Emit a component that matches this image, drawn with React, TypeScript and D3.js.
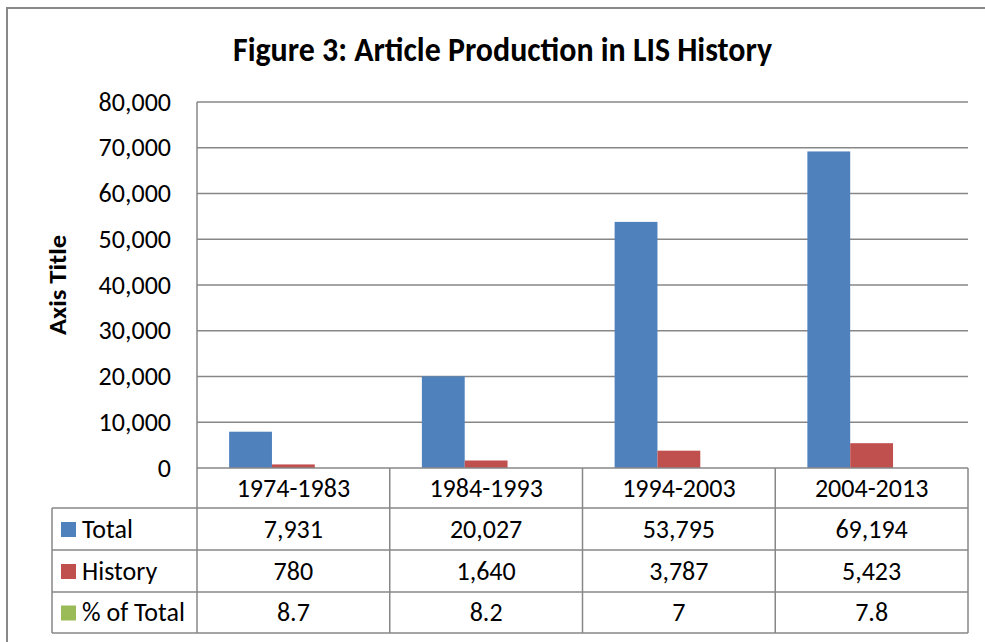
import React from "react";
import * as d3 from "d3";

const categories = ["1974-1983", "1984-1993", "1994-2003", "2004-2013"];
const seriesNames = ["Total", "History", "% of Total"];
const totalValues = [7931, 20027, 53795, 69194];
const historyValues = [780, 1640, 3787, 5423];
const pctValues = [8.7, 8.2, 7, 7.8];
const totalLabels = ["7,931", "20,027", "53,795", "69,194"];
const historyLabels = ["780", "1,640", "3,787", "5,423"];
const pctLabels = ["8.7", "8.2", "7", "7.8"];
const yTicks = [0, 10000, 20000, 30000, 40000, 50000, 60000, 70000, 80000];
const colors = ["#4F81BD", "#C0504D", "#9BBB59"];

const W = 985;
const H = 642;
const FONT = "Carlito, Lato, 'Open Sans', sans-serif";

export default function App() {
  const left = 197;
  const right = 968;
  const top = 102;
  const bottom = 468;
  const tableLeft = 52;
  const rowYs = [468, 508, 550, 592, 633];
  const fs = 26;

  const x = d3.scaleBand<string>().domain(categories).range([left, right]).paddingInner(0).paddingOuter(0);
  const y = d3.scaleLinear().domain([0, 80000]).range([bottom, top]);
  const bw = x.bandwidth();
  const barW = bw / 4.5;
  const sub = d3.scaleBand<number>().domain([0, 1, 2]).range([0, barW * 3]);
  const fmt = d3.format(",");
  const series = [totalValues, historyValues, pctValues];
  const rowLabels = [totalLabels, historyLabels, pctLabels];
  const grid = "#878787";

  return (
    <div style={{ position: "absolute", left: 0, top: 0 }}>
      <svg width={W} height={H} style={{ display: "block", fontFamily: FONT }}>
        <rect x={0} y={0} width={W} height={H} fill="#fff" />
        <rect x={7} y={8} width={W + 10} height={H + 10} fill="none" stroke="#888" strokeWidth={2} />
        <text x={502.5} y={61} textAnchor="middle" fontSize={34} fontWeight="bold" fill="#000" textLength={539} lengthAdjust="spacingAndGlyphs">
          Figure 3: Article Production in LIS History
        </text>
        {yTicks.map((t) => (
          <g key={t}>
            {t > 0 && <line x1={left} x2={right} y1={y(t)} y2={y(t)} stroke={grid} strokeWidth={1.3} />}
            <text x={171} y={y(t) + 8.5} textAnchor="end" fontSize={fs} fill="#000">
              {fmt(t)}
            </text>
          </g>
        ))}
        <text transform={`translate(66,${(top + bottom) / 2}) rotate(-90)`} textAnchor="middle" fontSize={25} fontWeight="bold" fill="#000" textLength={100} lengthAdjust="spacingAndGlyphs">
          Axis Title
        </text>
        {categories.map((c, i) =>
          series.map((s, k) => {
            const x0 = (x(c) as number) + barW * 0.75 + (sub(k) as number);
            const h = bottom - y(s[i]);
            return <rect key={c + k} x={x0} y={y(s[i])} width={barW} height={Math.max(h, 0)} fill={colors[k]} />;
          })
        )}
        <line x1={left} x2={left} y1={top} y2={rowYs[4]} stroke={grid} strokeWidth={1.5} />
        <line x1={left} x2={right} y1={bottom} y2={bottom} stroke={grid} strokeWidth={1.5} />
        {categories.map((c) => (
          <line key={"v" + c} x1={(x(c) as number) + bw} x2={(x(c) as number) + bw} y1={bottom} y2={rowYs[4]} stroke={grid} strokeWidth={1.5} />
        ))}
        <line x1={tableLeft} x2={tableLeft} y1={rowYs[1]} y2={rowYs[4]} stroke={grid} strokeWidth={1.5} />
        {rowYs.slice(1).map((ry) => (
          <line key={"h" + ry} x1={tableLeft} x2={right} y1={ry} y2={ry} stroke={grid} strokeWidth={1.5} />
        ))}
        {categories.map((c) => (
          <text key={"c" + c} x={(x(c) as number) + bw / 2} y={(rowYs[0] + rowYs[1]) / 2 + 8.5} textAnchor="middle" fontSize={fs} fill="#000">
            {c}
          </text>
        ))}
        {seriesNames.map((n, k) => {
          const cy = (rowYs[k + 1] + rowYs[k + 2]) / 2;
          return (
            <g key={n}>
              <rect x={61} y={cy - 7} width={15} height={15} fill={colors[k]} />
              <text x={82} y={cy + 8.5} fontSize={fs} fill="#000">
                {n}
              </text>
              {categories.map((c, i) => (
                <text key={c} x={(x(c) as number) + bw / 2} y={cy + 8.5} textAnchor="middle" fontSize={fs} fill="#000">
                  {rowLabels[k][i]}
                </text>
              ))}
            </g>
          );
        })}
      </svg>
    </div>
  );
}
